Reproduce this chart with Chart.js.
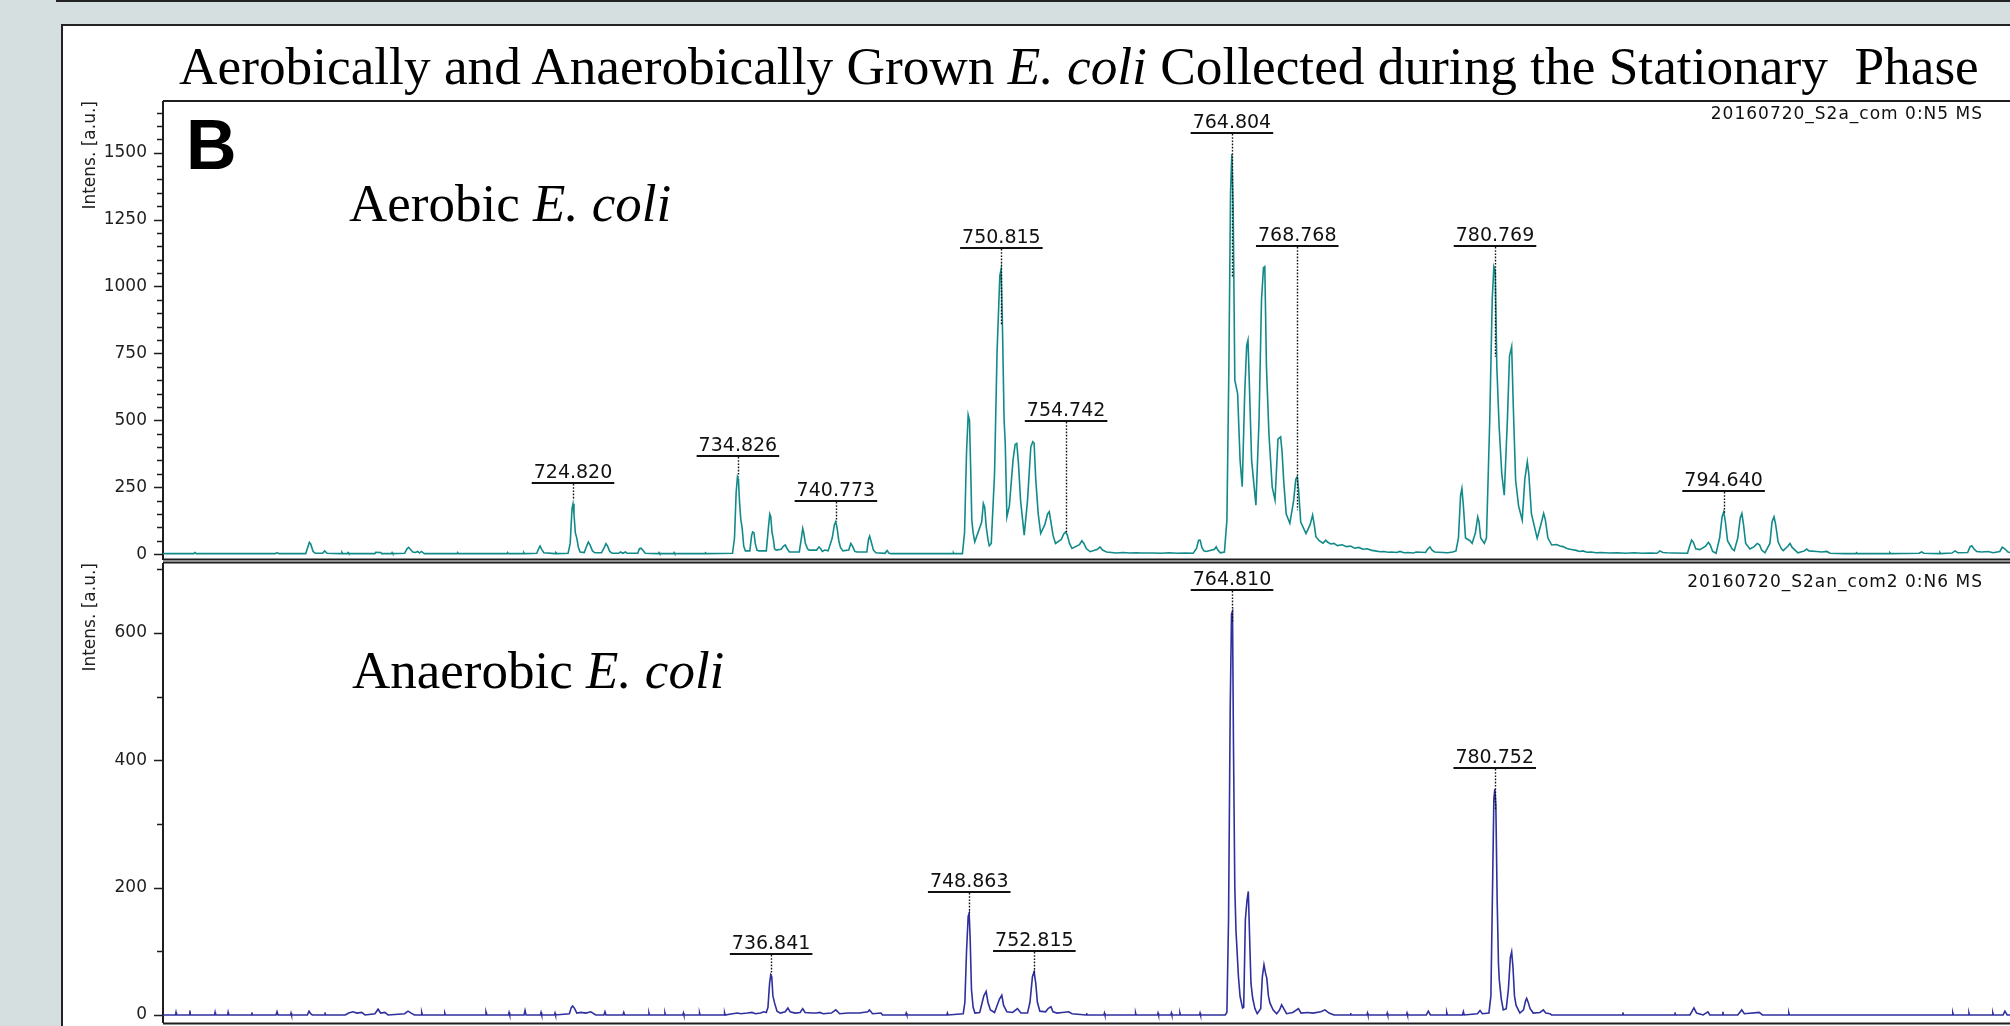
<!DOCTYPE html>
<html><head><meta charset="utf-8">
<script src="https://cdn.jsdelivr.net/npm/chart.js@4.4.1/dist/chart.umd.min.js"></script>
<style>
html,body{margin:0;padding:0;}
body{width:2010px;height:1026px;overflow:hidden;background:#d6dfe0;position:relative;}
#boxA{position:absolute;left:56px;top:-28px;width:2100px;height:30px;border-left:2px solid #222;border-bottom:2px solid #222;box-sizing:border-box;}
#panel{position:absolute;left:61px;top:24px;width:2100px;height:1100px;border-left:2px solid #222;border-top:2px solid #222;background:#fff;box-sizing:border-box;}
canvas{position:absolute;left:0;}
.t{position:absolute;white-space:pre;color:#000;margin:0;}
.serif{font-family:"Liberation Serif","Times New Roman",serif;line-height:1.107;}
.hdr{font-family:"DejaVu Sans";font-size:17px;line-height:1.164;letter-spacing:1px;color:#111;right:27px;}
</style>
</head><body>
<div id="boxA"></div>
<div id="panel"></div>
<canvas id="c1" width="2010" height="562" style="top:0"></canvas>
<canvas id="c2" width="2010" height="466" style="top:560px"></canvas>
<div class="t serif" style="left:179px;top:36.5px;font-size:53.3px;">Aerobically and Anaerobically Grown <i>E. coli</i> Collected during the Stationary  Phase</div>
<div class="t" style="left:186px;top:106px;font-family:'Liberation Sans';font-weight:bold;font-size:70px;line-height:1.117;">B</div>
<div class="t serif" style="left:349px;top:174px;font-size:53px;">Aerobic <i>E. coli</i></div>
<div class="t serif" style="left:352px;top:641px;font-size:53px;">Anaerobic <i>E. coli</i></div>
<div class="t hdr" style="top:104px;">20160720_S2a_com 0:N5 MS</div>
<div class="t hdr" style="top:572px;">20160720_S2an_com2 0:N6 MS</div>
<script>
// ---------------- data (m/z, intensity in a.u.) ----------------
const aerobicSpectrum = [
[699.94,2],[701.80,2],[701.88,6],[701.95,2],[706.75,2],[706.86,5],[706.97,2],
[708.60,2],[708.75,30],[708.82,44],[708.90,38],[709.05,10],[709.18,3],[709.62,3],[709.75,12],[709.90,3],
[710.75,2],[710.80,7],[710.85,2],[711.12,2],[711.17,6],[711.22,2],[712.80,2],[712.85,7],[713.15,6],[713.20,2],[713.80,2],[713.84,6],[713.88,2],
[714.60,3],[714.75,20],[714.84,25],[714.95,18],[715.10,8],[715.25,6],[715.40,10],[715.50,4],[715.62,10],[715.80,2],
[717.78,2],[717.82,6],[717.86,2],[720.81,2],[720.85,6],[720.89,2],[721.79,2],[721.83,6],[721.87,2],
[722.62,3],[722.75,22],[722.82,30],[722.92,18],[723.05,5],[723.74,2],[723.78,6],[723.85,2],
[724.52,3],[724.65,40],[724.76,170],[724.82,188],[724.88,150],[724.96,80],[725.05,60],[725.15,25],[725.25,8],
[725.50,6],[725.65,30],[725.75,45],[725.85,35],[726.00,12],[726.15,5],
[726.55,5],[726.72,25],[726.82,39],[726.92,30],[727.05,10],[727.20,3],
[727.60,3],[727.70,8],[727.85,3],[728.00,8],[728.10,3],
[728.75,3],[728.85,20],[728.95,22],[729.05,15],[729.20,3],
[730.00,2],[730.04,6],[730.08,2],[730.91,2],[730.95,6],[730.99,2],[732.82,2],[732.86,5],[732.90,2],
[734.50,3],[734.62,60],[734.72,230],[734.80,289],[734.86,280],[734.92,200],[735.00,130],[735.08,100],[735.18,30],[735.28,12],
[735.55,12],[735.66,70],[735.72,83],[735.80,80],[735.88,40],[735.98,15],[736.10,12],
[736.55,12],[736.68,100],[736.76,150],[736.82,140],[736.90,80],[736.98,55],[737.05,20],[737.15,15],
[737.45,18],[737.60,30],[737.70,34],[737.80,22],[737.95,8],
[738.55,8],[738.68,60],[738.76,96],[738.82,80],[738.92,40],[739.05,20],[739.15,15],
[739.60,15],[739.75,27],[739.85,20],[739.95,10],[740.10,15],
[740.30,12],[740.55,60],[740.68,110],[740.76,121],[740.84,100],[740.95,50],[741.05,25],[741.20,12],
[741.55,15],[741.68,40],[741.78,30],[741.92,10],[742.05,8],
[742.65,8],[742.75,55],[742.82,67],[742.92,45],[743.05,15],[743.20,5],
[743.75,3],[743.88,13],[744.00,3],[744.15,2],
[747.88,2],[747.91,5],[747.94,2],
[748.45,2],[748.58,80],[748.70,380],[748.80,520],[748.88,500],[748.96,300],[749.02,127],[749.10,80],[749.20,46],
[749.62,120],[749.72,189],[749.80,175],[749.90,100],[750.00,55],[750.08,31],
[750.20,40],[750.40,300],[750.55,750],[750.72,1040],[750.80,1065],[750.88,850],[750.98,500],[751.05,414],[751.15,139],
[751.30,180],[751.52,350],[751.65,410],[751.75,414],[751.85,340],[751.98,200],[752.10,130],[752.20,71],
[752.40,200],[752.60,400],[752.72,420],[752.80,415],[752.90,280],[753.05,150],[753.20,77],
[753.45,110],[753.62,150],[753.72,158],[753.82,120],[753.95,70],[754.10,40],
[754.45,55],[754.60,75],[754.72,83],[754.82,70],[754.95,40],[755.10,21],
[755.55,35],[755.70,50],[755.82,40],[755.98,20],[756.20,9],
[756.65,18],[756.80,27],[756.95,15],[757.20,8],
[757.50,6],[757.80,4],[758.20,6],[758.60,4],[759.00,5],[759.30,4],[760.00,4],[760.50,3],[761.00,5],[761.50,3],[762.00,4],[762.45,3],
[762.65,20],[762.78,52],[762.88,52],[762.98,25],[763.10,12],[763.25,10],
[763.75,18],[763.85,27],[763.95,15],[764.10,5],
[764.35,8],[764.50,127],[764.62,700],[764.72,1350],[764.80,1495],[764.88,1300],[764.98,650],[765.15,600],[765.30,350],[765.43,252],
[765.58,600],[765.70,780],[765.78,800],[765.88,600],[766.00,350],[766.26,183],
[766.45,500],[766.60,950],[766.72,1070],[766.80,1074],[766.90,700],[767.05,450],[767.25,250],[767.42,202],
[767.60,430],[767.76,438],[767.85,380],[767.95,270],[768.10,150],[768.32,115],
[768.55,200],[768.68,280],[768.77,289],[768.85,240],[768.98,120],[769.30,77],
[769.55,110],[769.70,146],[769.80,110],[769.90,65],[770.10,50],[770.33,41],[770.50,52],[770.60,45],[770.80,38],[771.00,40],
[771.20,32],[771.50,35],[771.75,28],[772.00,30],[772.25,22],[772.50,25],[772.75,18],[773.00,20],[773.30,14],[773.50,12],[773.80,9],[774.00,10],[774.30,7],[774.50,8],[774.80,6],[775.00,10],[775.25,5],[775.50,6],[775.80,4],[776.00,8],
[776.55,6],[776.70,20],[776.82,27],[776.95,15],[777.10,8],[777.60,6],[777.90,5],[778.20,8],
[778.40,12],[778.55,60],[778.68,220],[778.76,245],[778.85,180],[778.98,60],[779.25,50],[779.38,40],
[779.58,80],[779.72,139],[779.80,120],[779.90,60],[780.12,40],[780.25,60],
[780.45,500],[780.60,950],[780.70,1074],[780.78,1060],[780.88,700],[781.02,476],[781.18,300],[781.33,220],
[781.52,500],[781.65,740],[781.78,775],[781.88,550],[782.02,276],[782.20,180],[782.42,127],
[782.58,280],[782.73,345],[782.82,300],[782.98,150],[783.33,59],
[783.55,110],[783.72,152],[783.82,130],[783.98,60],[784.21,34],
[784.50,36],[784.71,30],[784.90,28],[785.10,22],[785.32,18],[785.50,16],[785.70,14],[785.90,10],[786.10,12],[786.35,7],[786.60,8],[786.90,5],[787.20,6],[787.70,4],[788.20,5],[788.70,3],[789.20,5],[789.70,3],[790.20,4],
[790.60,3],[790.78,12],[790.95,6],[791.20,5],[791.60,4],[792.45,3],
[792.58,30],[792.70,52],[792.80,45],[792.95,20],[793.20,17],
[793.55,30],[793.72,44],[793.82,35],[793.98,10],[794.18,3],
[794.40,60],[794.55,140],[794.65,158],[794.75,120],[794.88,50],[795.15,20],[795.29,13],
[795.50,60],[795.65,135],[795.75,152],[795.85,110],[795.98,40],[796.24,19],
[796.50,28],[796.68,40],[796.82,35],[796.95,15],[797.15,5],
[797.45,40],[797.58,120],[797.70,139],[797.80,110],[797.95,45],[798.15,20],[798.26,13],
[798.55,30],[798.67,40],[798.80,25],[799.15,5],
[799.55,12],[799.68,19],[799.82,12],[800.30,10],[800.60,8],[800.90,10],[801.10,3],
[802.00,2],[802.67,2],[802.71,5],[802.75,2],[804.69,2],[804.73,5],[804.77,2],
[806.50,3],[806.66,8],[806.80,3],[807.73,2],[807.77,6],[807.81,2],[808.50,4],[808.68,12],[808.85,5],
[809.45,6],[809.60,28],[809.70,31],[809.85,18],[810.00,10],[810.30,8],[810.69,10],[811.00,5],[811.40,10],[811.55,26],[811.70,20],[811.90,8],[812.02,6]
];
const anaerobicSpectrum = [
[699.94,0],[700.70,0],[700.73,4],[700.76,0],[701.54,0],[701.57,7],[701.60,0],
[703.07,0],[703.10,4],[703.13,0],[703.86,0],[703.89,4],[703.92,0],
[705.30,0],[705.33,4],[705.36,0],[706.80,0],[706.86,5],[706.92,0],[707.68,0],[707.71,3],[707.74,0],
[708.70,0],[708.80,6],[708.90,2],[709.00,0],[709.74,0],[709.77,4],[709.80,0],
[711.00,0],[711.20,3],[711.47,5],[711.70,3],[712.00,4],[712.20,0],[712.80,2],[712.99,9],[713.15,3],[713.40,4],[713.60,0],
[714.60,2],[714.81,6],[715.00,3],[715.20,0],[715.60,0],[715.64,4],[715.68,0],[717.00,0],[717.04,3],[717.08,0],
[719.50,0],[719.54,5],[719.60,0],[720.90,0],[720.94,4],[720.98,0],[721.85,0],[721.91,7],[721.97,0],[722.84,0],[722.88,4],[722.92,0],[723.70,0],[723.73,3],[723.76,0],
[724.60,2],[724.72,12],[724.80,14],[724.92,10],[725.05,3],[725.30,4],[725.60,3],[725.90,5],[726.20,0],[726.70,0],[726.76,5],[726.82,0],[727.85,0],[727.90,4],[727.95,0],
[729.40,0],[729.43,3],[729.46,0],[730.37,0],[730.40,3],[730.43,0],[731.49,0],[731.52,3],[731.55,0],[732.47,0],[732.50,3],[732.53,0],
[733.99,0],[734.02,3],[734.05,0],[734.50,2],[734.80,3],[735.00,2],[735.40,3],[735.68,4],[735.90,2],[736.20,3],[736.40,5],
[736.55,4],[736.65,12],[736.75,50],[736.82,63],[736.88,60],[736.95,30],[737.05,19],[737.20,6],[737.40,3],[737.70,5],[737.86,11],[738.00,5],
[738.30,3],[738.60,4],[738.76,10],[738.90,4],[739.30,3],[739.60,3],[739.80,4],[740.00,2],[740.50,3],[740.77,8],[741.00,2],[741.50,3],[742.20,3],[742.71,5],[742.81,8],[743.00,2],[743.51,3],[743.60,0],
[745.00,0],[745.04,3],[745.08,0],[747.50,0],[747.54,3],[747.58,0],
[748.50,2],[748.60,20],[748.70,100],[748.80,155],[748.86,160],[748.92,120],[749.00,40],[749.10,12],[749.21,3],
[749.50,4],[749.75,30],[749.89,37],[750.00,20],[750.15,8],[750.40,4],[750.70,25],[750.84,31],[750.95,15],[751.15,5],
[751.50,4],[751.79,10],[752.00,3],[752.40,3],[752.55,20],[752.70,60],[752.80,68],[752.90,50],[753.00,20],[753.15,6],
[753.50,5],[753.65,10],[753.82,13],[753.95,5],[754.20,3],[754.50,4],[754.90,5],[755.10,2],
[755.95,0],[755.98,3],[756.01,0],[757.04,0],[757.07,3],[757.10,0],[758.93,0],[758.96,3],[758.99,0],[760.29,0],[760.32,3],[760.35,0],[761.10,0],[761.13,3],[761.16,0],[761.62,0],[761.65,3],[761.68,0],[762.84,0],[762.87,3],[762.90,0],
[764.40,0],[764.50,4],[764.60,150],[764.70,480],[764.78,630],[764.84,634],[764.90,420],[764.98,200],[765.05,133],[765.20,60],[765.30,29],[765.45,11],[765.52,12],
[765.62,150],[765.72,180],[765.80,194],[765.88,120],[765.96,50],[766.06,27],[766.20,10],[766.34,2],
[766.55,10],[766.65,60],[766.75,79],[766.85,65],[766.92,58],[767.02,30],[767.11,19],[767.30,8],[767.52,2],[767.70,8],[767.82,16],[767.95,10],[768.12,2],
[768.50,4],[768.84,10],[769.00,3],[769.40,4],[769.72,3],[770.20,5],[770.45,8],[770.70,3],[771.00,0],
[771.97,0],[772.00,3],[772.03,0],[773.00,0],[773.03,3],[773.06,0],[774.20,0],[774.23,3],[774.26,0],[775.40,0],[775.43,3],[775.46,0],
[776.60,0],[776.72,6],[776.85,0],[777.80,0],[777.84,4],[777.88,0],[778.80,0],[778.85,5],[778.90,0],[779.70,2],[779.86,7],[780.00,2],
[780.40,3],[780.52,30],[780.62,200],[780.70,340],[780.76,355],[780.82,330],[780.90,180],[780.98,80],[781.03,55],[781.15,25],[781.27,8],
[781.45,10],[781.58,40],[781.70,90],[781.78,99],[781.86,75],[781.95,30],[782.05,15],[782.28,3],
[782.50,8],[782.62,22],[782.69,26],[782.78,20],[782.90,10],[783.09,3],[783.50,4],[783.70,8],[783.85,3],[784.10,2],[784.20,0],
[788.50,0],[788.53,4],[788.56,0],[791.66,0],[791.69,4],[791.72,0],[792.60,0],[792.84,11],[793.00,3],[793.40,0],[793.69,5],[793.80,0],[794.57,0],[794.60,5],[794.63,0],
[795.50,0],[795.74,8],[795.90,2],[796.80,4],[797.00,0],[798.57,0],[798.60,3],[798.63,0],
[808.52,0],[808.55,3],[808.58,0],[809.50,0],[809.53,3],[809.56,0],[810.95,0],[810.98,3],[811.01,0],[811.60,0],[811.71,6],[811.85,0],[812.02,0]
];
// annotated peaks (m/z label) and where their dotted marker ends (a.u.)
const aerobicPeakLabels = ["724.820","734.826","740.773","750.815","754.742","764.804","768.768","780.769","794.640"];
const aerobicPeakDotEnd = [205, 289, 121, 856, 83, 1036, 164, 737, 152];
const anaerobicPeakLabels = ["736.841","748.863","752.815","764.810","780.752"];
const anaerobicPeakDotEnd = [63, 160, 63, 617, 322];
// axes
const mzRange = [699.94, 812.02];
const aerobicYRange = [-22, 1693];
const anaerobicYRange = [-12.6, 710];
const aerobicTickLabels = [0, 250, 500, 750, 1000, 1250, 1500];
const aerobicMinorStep = 50;
const anaerobicTickLabels = [0, 200, 400, 600];
const anaerobicMinorStep = 100;
const yTitle = "Intens. [a.u.]";

// ---------------- helpers ----------------
function minorTicks(range, step){
  const out = [];
  for (let v = Math.ceil(range[0]/step)*step; v <= range[1]; v += step) out.push(v);
  return out;
}
const frameTickPlugin = {
  id: 'frameTicks',
  beforeDatasetsDraw(chart, args, opts){
    const {ctx, chartArea: a} = chart;
    const y = chart.scales.y;
    ctx.save();
    ctx.strokeStyle = '#1e1e1e';
    ctx.lineWidth = 2;
    ctx.beginPath();
    ctx.moveTo(a.left, opts.topY); ctx.lineTo(a.right, opts.topY);
    ctx.moveTo(a.left, opts.bottomY); ctx.lineTo(a.right, opts.bottomY);
    ctx.moveTo(a.left, a.top); ctx.lineTo(a.left, a.bottom);
    ctx.stroke();
    ctx.lineWidth = 1.5;
    ctx.beginPath();
    for (const t of y.ticks){
      const py = Math.round(y.getPixelForValue(t.value)) + 0.5;
      const len = opts.majors.includes(t.value) ? 9 : 6;
      ctx.moveTo(a.left - len, py); ctx.lineTo(a.left, py);
    }
    ctx.stroke();
    ctx.restore();
  }
};
const peakLabelPlugin = {
  id: 'peakLabels',
  afterDatasetsDraw(chart, args, opts){
    const {ctx} = chart;
    const x = chart.scales.x, y = chart.scales.y;
    const data = chart.data.datasets[0].data;
    ctx.save();
    ctx.font = '19px "DejaVu Sans"';
    ctx.fillStyle = '#111';
    ctx.strokeStyle = '#111';
    ctx.textAlign = 'center';
    ctx.textBaseline = 'alphabetic';
    opts.labels.forEach((txt, i) => {
      const mz = parseFloat(txt);
      const px = x.getPixelForValue(mz);
      const w = ctx.measureText(txt).width;
      const lo = x.getValueForPixel(px - w/2 - 3), hi = x.getValueForPixel(px + w/2 + 3);
      let m = 0;
      for (const d of data) if (d.x >= lo && d.x <= hi && d.y > m) m = d.y;
      const barY = Math.round(y.getPixelForValue(m) - 21);
      ctx.fillText(txt, px, barY - 5);
      ctx.lineWidth = 2;
      ctx.setLineDash([]);
      ctx.beginPath(); ctx.moveTo(px - w/2 - 2, barY); ctx.lineTo(px + w/2 + 2, barY); ctx.stroke();
      ctx.lineWidth = 1.4;
      ctx.setLineDash([1.6, 1.6]);
      const xx = Math.round(px) + 0.5;
      ctx.beginPath(); ctx.moveTo(xx, barY + 1); ctx.lineTo(xx, y.getPixelForValue(opts.dotEnd[i])); ctx.stroke();
    });
    ctx.restore();
  }
};
function makeChart(id, spectrum, color, yRange, majors, step, labels, dotEnd, pad, frame){
  const minors = minorTicks(yRange, step);
  return new Chart(document.getElementById(id), {
    type: 'line',
    data: { datasets: [{
      data: spectrum.map(p => ({x: p[0], y: p[1]})),
      borderColor: color, borderWidth: 1.6, pointRadius: 0, tension: 0, fill: false
    }]},
    options: {
      responsive: false, animation: false, devicePixelRatio: 1, events: [],
      layout: { padding: pad },
      scales: {
        x: { type: 'linear', min: mzRange[0], max: mzRange[1], display: false },
        y: {
          type: 'linear', min: yRange[0], max: yRange[1], position: 'left',
          afterBuildTicks: s => { s.ticks = minors.map(v => ({value: v})); },
          afterFit: s => { s.width = 83; s.paddingTop = 0; s.paddingBottom = 0; },
          ticks: { autoSkip: false, padding: 16, color: '#1e1e1e',
                   font: { family: 'DejaVu Sans', size: 17 },
                   callback: v => majors.includes(v) ? String(v) : '' },
          grid: { display: false, drawTicks: false },
          border: { display: false },
          title: { display: true, text: yTitle, align: 'end', color: '#1e1e1e', padding: 0,
                   font: { family: 'DejaVu Sans', size: 17 } }
        }
      },
      plugins: {
        legend: { display: false }, tooltip: { enabled: false },
        frameTicks: Object.assign({ majors }, frame),
        peakLabels: { labels, dotEnd }
      }
    },
    plugins: [frameTickPlugin, peakLabelPlugin]
  });
}
makeChart('c1', aerobicSpectrum, '#138a8a', aerobicYRange, aerobicTickLabels, aerobicMinorStep,
  aerobicPeakLabels, aerobicPeakDotEnd, {left: 80, top: 101, right: 0, bottom: 2}, {topY: 101, bottomY: 559.5});
makeChart('c2', anaerobicSpectrum, '#2f2f9e', anaerobicYRange, anaerobicTickLabels, anaerobicMinorStep,
  anaerobicPeakLabels, anaerobicPeakDotEnd, {left: 80, top: 3, right: 0, bottom: 3}, {topY: 2.5, bottomY: 463.5});
</script>
</body></html>
